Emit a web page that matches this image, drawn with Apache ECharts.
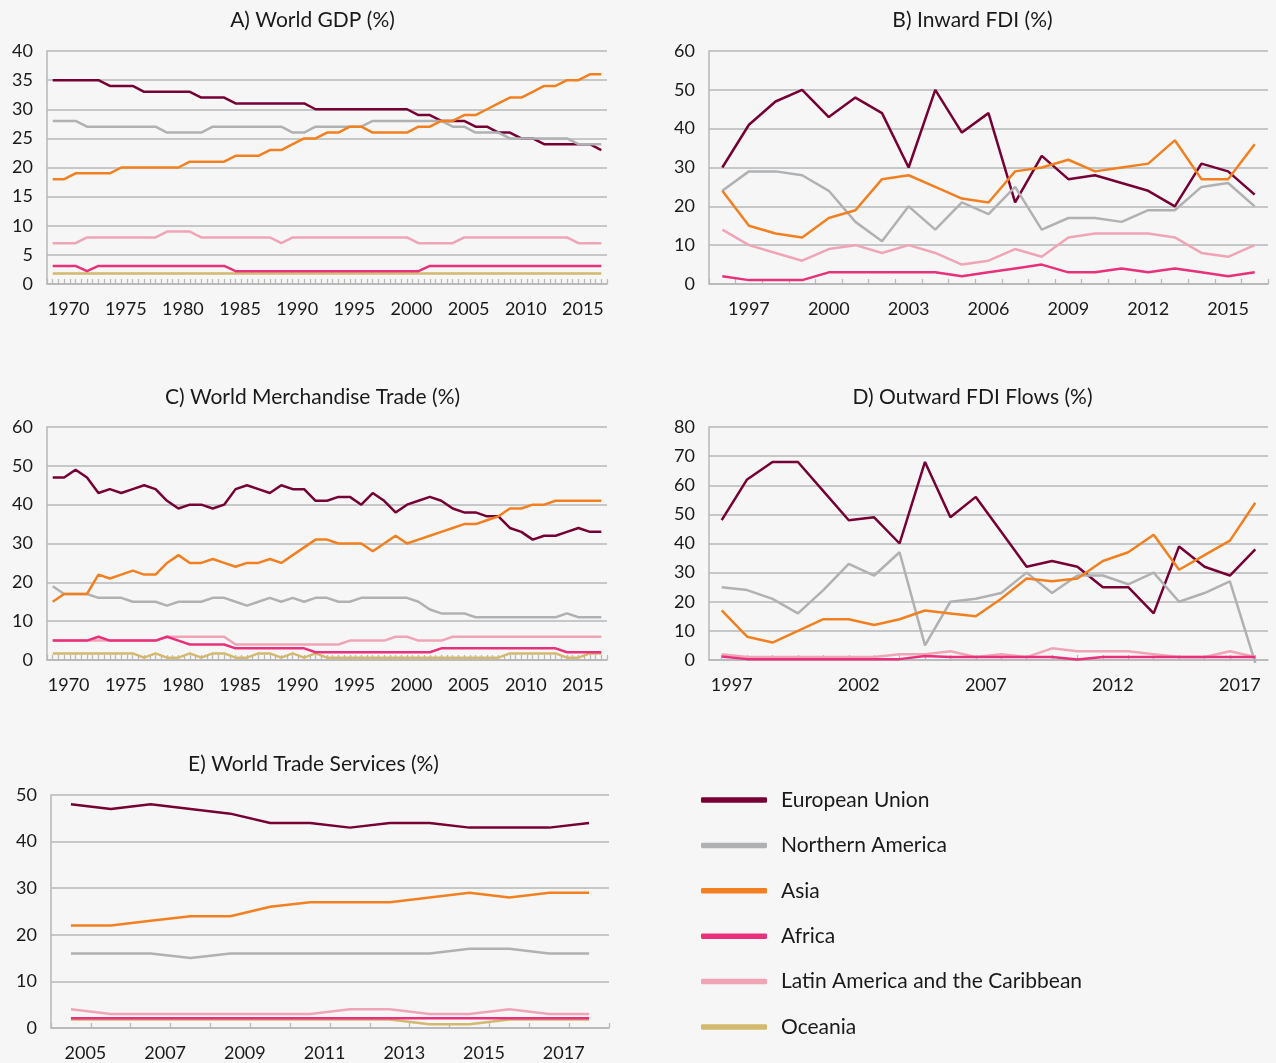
<!DOCTYPE html>
<html><head><meta charset="utf-8">
<script src="https://cdn.jsdelivr.net/npm/echarts/dist/echarts.min.js"></script>
<style>html,body{margin:0;padding:0;background:#f6f6f6}#c{width:1276px;height:1063px}</style>
</head><body><div id="c"></div>
<script>
// ---------- categories ----------
const yearsLong = ['1969','1970','1971','1972','1973','1974','1975','1976','1977','1978','1979','1980','1981','1982','1983','1984','1985','1986','1987','1988','1989','1990','1991','1992','1993','1994','1995','1996','1997','1998','1999','2000','2001','2002','2003','2004','2005','2006','2007','2008','2009','2010','2011','2012','2013','2014','2015','2016','2017'];
const yearsInward = ['1996','1997','1998','1999','2000','2001','2002','2003','2004','2005','2006','2007','2008','2009','2010','2011','2012','2013','2014','2015','2016'];
const yearsOutward = ['1997','1998','1999','2000','2001','2002','2003','2004','2005','2006','2007','2008','2009','2010','2011','2012','2013','2014','2015','2016','2017','2018'];
const yearsServices = ['2005','2006','2007','2008','2009','2010','2011','2012','2013','2014','2015','2016','2017','2018'];

const regionNames = ['European Union','Northern America','Asia','Africa','Latin America and the Caribbean','Oceania'];
const titles = ['A) World GDP (%)','B) Inward FDI (%)','C) World Merchandise Trade (%)','D) Outward FDI Flows (%)','E) World Trade Services (%)'];

// ---------- A) World GDP ----------
const gdpEU = [35,35,35,35,35,34,34,34,33,33,33,33,33,32,32,32,31,31,31,31,31,31,31,30,30,30,30,30,30,30,30,30,29,29,28,28,28,27,27,26,26,25,25,24,24,24,24,24,23];
const gdpNA = [28,28,28,27,27,27,27,27,27,27,26,26,26,26,27,27,27,27,27,27,27,26,26,27,27,27,27,27,28,28,28,28,28,28,28,27,27,26,26,26,25,25,25,25,25,25,24,24,24];
const gdpAsia = [18,18,19,19,19,19,20,20,20,20,20,20,21,21,21,21,22,22,22,23,23,24,25,25,26,26,27,27,26,26,26,26,27,27,28,28,29,29,30,31,32,32,33,34,34,35,35,36,36];
const gdpAfrica = [3.1,3.1,3.1,2.2,3.1,3.1,3.1,3.1,3.1,3.1,3.1,3.1,3.1,3.1,3.1,3.1,2.2,2.2,2.2,2.2,2.2,2.2,2.2,2.2,2.2,2.2,2.2,2.2,2.2,2.2,2.2,2.2,2.2,3.1,3.1,3.1,3.1,3.1,3.1,3.1,3.1,3.1,3.1,3.1,3.1,3.1,3.1,3.1,3.1];
const gdpLatAm = [7,7,7,8,8,8,8,8,8,8,9,9,9,8,8,8,8,8,8,8,7,8,8,8,8,8,8,8,8,8,8,8,7,7,7,7,8,8,8,8,8,8,8,8,8,8,7,7,7];
const gdpOceania = [1.8,1.8,1.8,1.8,1.8,1.8,1.8,1.8,1.8,1.8,1.8,1.8,1.8,1.8,1.8,1.8,1.8,1.8,1.8,1.8,1.8,1.8,1.8,1.8,1.8,1.8,1.8,1.8,1.8,1.8,1.8,1.8,1.8,1.8,1.8,1.8,1.8,1.8,1.8,1.8,1.8,1.8,1.8,1.8,1.8,1.8,1.8,1.8,1.8];

// ---------- B) Inward FDI ----------
const fdiInEU = [30,41,47,50,43,48,44,30,50,39,44,21,33,27,28,26,24,20,31,29,23];
const fdiInNA = [24,29,29,28,24,16,11,20,14,21,18,25,14,17,17,16,19,19,25,26,20];
const fdiInAsia = [24,15,13,12,17,19,27,28,25,22,21,29,30,32,29,30,31,37,27,27,36];
const fdiInAfrica = [2,1,1,1,3,3,3,3,3,2,3,4,5,3,3,4,3,4,3,2,3];
const fdiInLatAm = [14,10,8,6,9,10,8,10,8,5,6,9,7,12,13,13,13,12,8,7,10];

// ---------- C) World Merchandise Trade ----------
const tradeEU = [47,47,49,47,43,44,43,44,45,44,41,39,40,40,39,40,44,45,44,43,45,44,44,41,41,42,42,40,43,41,38,40,41,42,41,39,38,38,37,37,34,33,31,32,32,33,34,33,33];
const tradeNA = [19,17,17,17,16,16,16,15,15,15,14,15,15,15,16,16,15,14,15,16,15,16,15,16,16,15,15,16,16,16,16,16,15,13,12,12,12,11,11,11,11,11,11,11,11,12,11,11,11];
const tradeAsia = [15,17,17,17,22,21,22,23,22,22,25,27,25,25,26,25,24,25,25,26,25,27,29,31,31,30,30,30,28,30,32,30,31,32,33,34,35,35,36,37,39,39,40,40,41,41,41,41,41];
const tradeAfrica = [5,5,5,5,6,5,5,5,5,5,6,5,4,4,4,4,3,3,3,3,3,3,3,2,2,2,2,2,2,2,2,2,2,2,3,3,3,3,3,3,3,3,3,3,3,2,2,2,2];
const tradeLatAm = [5,5,5,5,5,5,5,5,5,5,6,6,6,6,6,6,4,4,4,4,4,4,4,4,4,4,5,5,5,5,6,6,5,5,5,6,6,6,6,6,6,6,6,6,6,6,6,6,6];
const tradeOceania = [1.7,1.7,1.7,1.7,1.7,1.7,1.7,1.7,0.6,1.7,0.6,0.6,1.7,0.6,1.7,1.7,0.6,0.6,1.7,1.7,0.6,1.7,0.6,1.7,0.6,0.6,0.6,0.6,0.6,0.6,0.6,0.6,0.6,0.6,0.6,0.6,0.6,0.6,0.6,0.6,1.7,1.7,1.7,1.7,1.7,0.6,0.6,1.7,1.7];

// ---------- D) Outward FDI Flows ----------
const fdiOutEU = [48,62,68,68,58,48,49,40,68,49,56,44,32,34,32,25,25,16,39,32,29,38];
const fdiOutNA = [25,24,21,16,24,33,29,37,5,20,21,23,30,23,29,29,26,30,20,23,27,-1];
const fdiOutAsia = [17,8,6,10,14,14,12,14,17,16,15,21,28,27,28,34,37,43,31,36,41,54];
const fdiOutAfrica = [1.2,0.3,0.3,0.3,0.3,0.3,0.3,0.3,1.4,1,1,1,1,1,0.2,1,1,1,1,1,1,1];
const fdiOutLatAm = [2,1,1,1,1,1,1,2,2,3,1,2,1,4,3,3,3,2,1,1,3,1];

// ---------- E) World Trade Services ----------
const svcEU = [48,47,48,47,46,44,44,43,44,44,43,43,43,44];
const svcNA = [16,16,16,15,16,16,16,16,16,16,17,17,16,16];
const svcAsia = [22,22,23,24,24,26,27,27,27,28,29,28,29,29];
const svcAfrica = [2.1,2.1,2.1,2.1,2.1,2.1,2.1,2.1,2.1,2.1,2.1,2.1,2.1,2.1];
const svcLatAm = [4,3,3,3,3,3,3,4,4,3,3,4,3,3];
const svcOceania = [1.8,1.8,1.8,1.8,1.8,1.8,1.8,1.8,1.8,0.8,0.8,1.8,1.8,1.8];

// ---------- styling ----------
const colors = {
  'European Union':'#760034',
  'Northern America':'#b0b1b3',
  'Asia':'#f28020',
  'Africa':'#e9307a',
  'Latin America and the Caribbean':'#f0a5b7',
  'Oceania':'#d3b96d'
};
const FONT = 'Lato';
const TXT = '#1a1a1a';
const GRIDC = '#b6b7b9';

const grids = [
  {left:47, top:51, width:560, height:233},
  {left:709, top:51, width:559, height:233},
  {left:47, top:427, width:560, height:233},
  {left:709, top:427, width:559, height:233},
  {left:51, top:795, width:558, height:233}
];

function xMain(gridIndex, data, opts) {
  return {
    type:'category', gridIndex, data, boundaryGap:true, position:'bottom',
    axisLine:{show:true, lineStyle:{color:GRIDC, width:1.5}},
    axisTick:Object.assign({show:true, inside:true, length:5, interval:0, lineStyle:{color:GRIDC, width:1.2}}, opts.tick||{}),
    axisLabel:{color:TXT, fontFamily:FONT, fontSize:18, margin:16, interval:opts.interval, padding:opts.padding||0},
    splitLine:{show:false}
  };
}
function xTicks(gridIndex, n) {
  return {
    type:'category', gridIndex, data:new Array(n).fill(''), boundaryGap:true, position:'bottom',
    axisLine:{show:false}, axisLabel:{show:false}, splitLine:{show:false},
    axisTick:{show:true, inside:true, length:5, interval:0, lineStyle:{color:GRIDC, width:1.2}}
  };
}
function yAxis(gridIndex, max, interval) {
  return {
    type:'value', gridIndex, min:0, max, interval,
    axisLine:{show:true, lineStyle:{color:GRIDC, width:1.5}},
    axisTick:{show:false},
    axisLabel:{color:TXT, fontFamily:FONT, fontSize:18, margin:14},
    splitLine:{show:true, lineStyle:{color:GRIDC, width:1.5}}
  };
}

const xAxes = [
  xMain(0, yearsLong, {tick:{show:false}, interval:(i,v)=>(Number(v)-1970)%5===0, padding:[0,0,0,9]}),
  xTicks(0, 98),
  xMain(1, yearsInward, {interval:(i,v)=>(Number(v)-1997)%3===0}),
  xMain(2, yearsLong, {tick:{show:false}, interval:(i,v)=>(Number(v)-1970)%5===0, padding:[0,0,0,9]}),
  xTicks(2, 98),
  xMain(3, yearsOutward, {tick:{alignWithLabel:true}, interval:4, padding:[0,0,0,20]}),
  xMain(4, yearsServices, {interval:1, padding:[0,0,0,29]})
];
const yAxes = [yAxis(0,40,5), yAxis(1,60,10), yAxis(2,60,10), yAxis(3,80,10), yAxis(4,50,10)];

const panels = [
  {x:0, y:0, clip:true, series:[['European Union',gdpEU],['Northern America',gdpNA],['Asia',gdpAsia],['Latin America and the Caribbean',gdpLatAm],['Oceania',gdpOceania],['Africa',gdpAfrica]]},
  {x:2, y:1, clip:true, series:[['European Union',fdiInEU],['Northern America',fdiInNA],['Asia',fdiInAsia],['Latin America and the Caribbean',fdiInLatAm],['Africa',fdiInAfrica]]},
  {x:3, y:2, clip:true, series:[['European Union',tradeEU],['Northern America',tradeNA],['Asia',tradeAsia],['Latin America and the Caribbean',tradeLatAm],['Oceania',tradeOceania],['Africa',tradeAfrica]]},
  {x:5, y:3, clip:false, series:[['European Union',fdiOutEU],['Northern America',fdiOutNA],['Asia',fdiOutAsia],['Latin America and the Caribbean',fdiOutLatAm],['Africa',fdiOutAfrica]]},
  {x:6, y:4, clip:true, series:[['European Union',svcEU],['Northern America',svcNA],['Asia',svcAsia],['Latin America and the Caribbean',svcLatAm],['Oceania',svcOceania],['Africa',svcAfrica]]}
];

const series = [];
panels.forEach(p => {
  p.series.forEach(([name, data]) => {
    series.push({
      type:'line', name, data, xAxisIndex:p.x, yAxisIndex:p.y,
      showSymbol:false, symbol:'none', clip:p.clip,
      lineStyle:{width:2.5, color:colors[name]}, itemStyle:{color:colors[name]},
      emphasis:{disabled:true}, animation:false
    });
  });
});

const titlePos = [[312.5,20],[972.5,20],[312.5,397],[972.5,397],[313.5,764]];
const graphic = titles.map((t,i)=>({
  type:'text', x:titlePos[i][0], y:titlePos[i][1],
  style:{text:t, fontFamily:FONT, fontSize:21, fill:TXT, align:'center', verticalAlign:'middle'}
}));

const chart = echarts.init(document.getElementById('c'), null, {renderer:'canvas'});
chart.setOption({
  backgroundColor:'#f6f6f6',
  animation:false,
  grid:grids,
  xAxis:xAxes,
  yAxis:yAxes,
  series,
  graphic,
  legend:{
    orient:'vertical', left:701, top:788, padding:0, itemWidth:66, itemHeight:5.5, itemGap:21.4,
    icon:'roundRect', data:regionNames,
    textStyle:{fontFamily:FONT, fontSize:21, color:TXT, lineHeight:24, padding:[0,0,0,9]}
  }
});
</script></body></html>
